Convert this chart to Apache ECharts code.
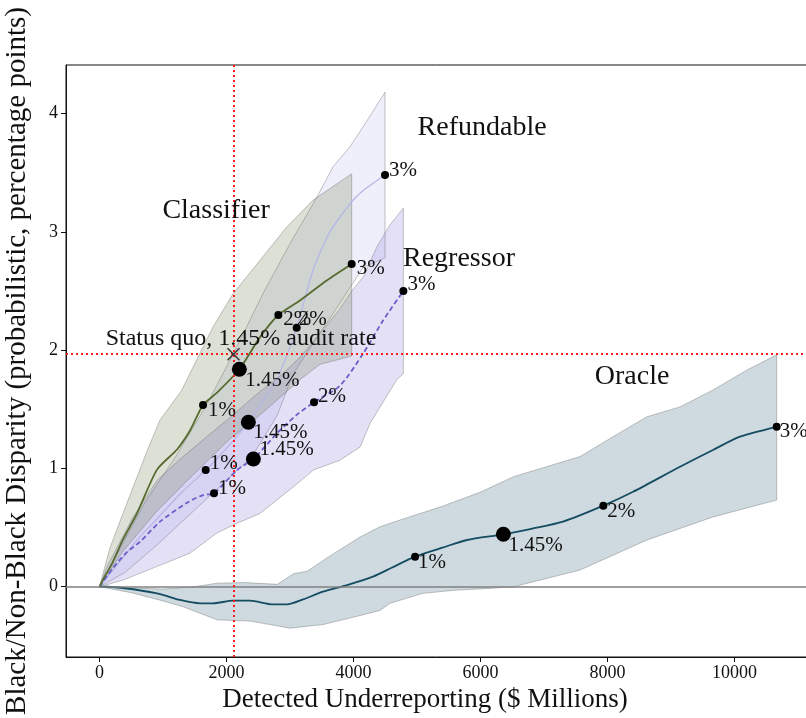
<!DOCTYPE html>
<html>
<head>
<meta charset="utf-8">
<script src="https://cdn.jsdelivr.net/npm/echarts@6/dist/echarts.min.js"></script>
<style>
  html, body { margin: 0; padding: 0; background: #fff; }
  #chart { width: 806px; height: 718px; }
</style>
</head>
<body>
<div id="chart"></div>
<script>
// ---- tick values ----
const xTicks = [0, 2000, 4000, 6000, 8000, 10000];
const yTicks = [0, 1, 2, 3, 4];

// ---- audit-rate labels for the marked points ----
const rateLabels = ['1%', '1.45%', '2%', '3%'];

// ---- Classifier ----
const classifierLine = [[0,0],[55,0.06],[200,0.2],[370,0.40],[590,0.62],[906,0.99],[1220,1.16],[1425,1.32],[1630,1.536],[1850,1.64],[2202,1.838],[2528,2.11],[2816,2.297],[3157,2.42],[3583,2.59],[3971,2.728]];
const classifierUpper = [[0,0],[165,0.33],[370,0.62],[750,1.15],[953,1.41],[1294,1.66],[1531,1.92],[1792,2.2],[2107,2.48],[2528,2.76],[2948,3.04],[3367,3.27],[3971,3.49]];
const classifierLower = [[0,0],[370,0.30],[906,0.64],[1425,0.92],[2055,1.25],[2480,1.43],[2843,1.6],[3157,1.75],[3472,1.88],[3971,1.95]];
const classifierPts = [[1630,1.536],[2202,1.838],[2816,2.297],[3971,2.728]];

// ---- Refundable ----
const refundableLine = [[0,0],[300,0.2],[600,0.4],[950,0.6],[1300,0.8],[1672,0.986],[2000,1.17],[2344,1.39],[2550,1.55],[2790,1.75],[3105,2.19],[3365,2.68],[3630,3.0],[4050,3.3],[4496,3.48]];
const refundableUpper = [[0,0],[300,0.3],[700,0.7],[1200,1.1],[1700,1.55],[2165,2.03],[2575,2.48],[3000,2.9],[3400,3.27],[3677,3.55],[3945,3.72],[4213,3.94],[4496,4.18]];
const refundableLower = [[0,0],[400,0.12],[900,0.35],[1400,0.6],[1900,0.85],[2400,1.1],[2800,1.45],[3050,1.80],[3365,2.06],[3680,2.31],[3971,2.55],[4155,2.70],[4496,2.78]];
const refundablePts = [[1672,0.986],[2344,1.39],[3105,2.19],[4496,3.48]];

// ---- Regressor ----
const regressorLine = [[0,0],[200,0.15],[428,0.29],[638,0.38],[953,0.55],[1378,0.71],[1630,0.775],[1803,0.79],[2165,0.986],[2423,1.08],[2800,1.3],[3100,1.45],[3378,1.56],[3787,1.70],[4150,1.97],[4465,2.25],[4785,2.50]];
const regressorUpper = [[0,0],[118,0.17],[529,0.59],[906,0.9],[1315,1.1],[1693,1.27],[2055,1.43],[2480,1.63],[2843,1.78],[3157,1.94],[3472,2.14],[3787,2.35],[3971,2.5],[4155,2.62],[4365,2.87],[4575,3.06],[4785,3.2]];
const regressorLower = [[0,0],[370,0.056],[900,0.17],[1425,0.284],[1845,0.453],[2160,0.535],[2528,0.62],[3055,0.845],[3367,0.986],[3787,1.07],[4102,1.18],[4260,1.38],[4680,1.75],[4785,1.8]];
const regressorPts = [[1803,0.79],[2423,1.08],[3378,1.56],[4785,2.50]];

// ---- Oracle ----
const oracleLine = [[0,0],[130,0],[906,-0.056],[1268,-0.112],[1583,-0.14],[1787,-0.14],[2102,-0.118],[2370,-0.118],[2732,-0.149],[2953,-0.149],[3205,-0.107],[3520,-0.042],[3898,0.014],[4307,0.085],[4600,0.16],[4969,0.254],[5400,0.33],[5787,0.395],[6360,0.443],[6800,0.49],[7299,0.55],[7934,0.685],[8402,0.803],[9142,1.014],[9661,1.156],[10087,1.268],[10664,1.352]];
const oracleUpper = [[0,0],[500,-0.01],[1000,-0.02],[1500,0.0],[1850,0.03],[2300,0.035],[2800,0.02],[3055,0.11],[3268,0.13],[3600,0.25],[4102,0.42],[4417,0.507],[4732,0.564],[5400,0.68],[6000,0.8],[6520,0.93],[7567,1.1],[8087,1.268],[8622,1.437],[9142,1.52],[9661,1.663],[10189,1.83],[10664,1.96]];
const oracleLower = [[0,0],[500,-0.05],[1000,-0.12],[1315,-0.169],[1850,-0.28],[2370,-0.29],[2685,-0.32],[3000,-0.35],[3520,-0.32],[4055,-0.25],[4417,-0.2],[4575,-0.14],[5094,-0.056],[5630,-0.028],[6150,-0.014],[6520,0.0],[7567,0.141],[8622,0.395],[9661,0.59],[10664,0.733]];
const oraclePts = [[4969,0.254],[6360,0.443],[7934,0.685],[10664,1.352]];

// ---- status quo reference ----
const statusQuo = [2110, 1.965];

// ---- annotation text anchors (data coordinates) ----
const modelNames = ['Classifier', 'Refundable', 'Regressor', 'Oracle'];
const modelNameAt = [[1835, 3.176], [6024, 3.877], [5661, 2.77], [8386, 1.773]];
const statusText = 'Status quo, 1.45% audit rate';
const statusTextAt = [2228, 2.10];

// label placement (pixel offsets from each marker), style only
const labelOffsets = {
  classifier: [[1,5],[-1.5,11],[1,5],[1,4]],
  refundable: [[0,-7],[-2.5,10],[-2,-8],[0,-5]],
  regressor:  [[0,-5],[-1.5,-9],[0,-6],[0,-6]],
  oracle:     [[-1,6],[-2.5,11],[0,6],[-1,5]]
};

const FONT = "'Liberation Serif', 'DejaVu Serif', serif";
const INK = '#111';

function band(upper, lower, fill) {
  return {
    type: 'custom',
    coordinateSystem: 'cartesian2d',
    silent: true,
    z: 1,
    data: [[0, 0]],
    renderItem: function (params, api) {
      const pts = upper.map(p => api.coord(p))
        .concat(lower.slice().reverse().map(p => api.coord(p)));
      return {
        type: 'polygon',
        shape: { points: pts },
        style: { fill: fill, stroke: 'rgba(90,90,90,0.35)', lineWidth: 1 }
      };
    }
  };
}

function curve(data, color, width, dashed) {
  return {
    type: 'line',
    data: data,
    showSymbol: false,
    smooth: 0.25,
    silent: true,
    z: 3,
    lineStyle: { color: color, width: width, type: dashed ? [5, 3] : 'solid' }
  };
}

function markers(pts, offsets) {
  return {
    type: 'scatter',
    silent: true,
    z: 5,
    data: pts.map((p, i) => ({
      value: p,
      symbolSize: i === 1 ? 15 : 8,
      label: {
        show: true,
        position: 'right',
        distance: 0,
        offset: offsets[i],
        formatter: rateLabels[i],
        fontFamily: FONT,
        fontSize: 21,
        color: INK,
        opacity: 1
      }
    })),
    itemStyle: { color: '#000', opacity: 1 }
  };
}

const textSeries = {
  type: 'scatter',
  silent: true,
  z: 6,
  symbolSize: 0,
  itemStyle: { color: '#000', opacity: 1 },
  data: modelNames.map((n, i) => ({
    value: modelNameAt[i],
    label: { show: true, position: 'inside', formatter: n, fontFamily: FONT, fontSize: 28, color: INK, opacity: 1, textBorderWidth: 0 }
  })).concat([{
    value: statusTextAt,
    label: { show: true, position: 'inside', formatter: statusText, fontFamily: FONT, fontSize: 24, color: INK, opacity: 1, textBorderWidth: 0 }
  }])
};

const chart = echarts.init(document.getElementById('chart'), null, { renderer: 'canvas' });

chart.setOption({
  animation: false,
  backgroundColor: '#fff',
  grid: { left: 66, top: 65, right: -2, bottom: 61, show: true, borderColor: INK, borderWidth: 1, containLabel: false, outerBoundsMode: 'none' },
  xAxis: {
    type: 'value',
    min: -528, max: 11157,
    splitLine: { show: false },
    axisLine: { show: true, onZero: false, lineStyle: { color: INK, width: 1 } },
    axisTick: { show: true, length: 5, customValues: xTicks, lineStyle: { color: INK } },
    axisLabel: { customValues: xTicks, formatter: v => String(v), fontFamily: FONT, fontSize: 18, color: INK, margin: 7 },
    name: 'Detected Underreporting ($ Millions)',
    nameLocation: 'middle',
    nameGap: 29,
    nameTextStyle: { fontFamily: FONT, fontSize: 27, color: INK, padding: [0, 24, 0, 0] }
  },
  yAxis: {
    type: 'value',
    min: -0.594, max: 4.41,
    splitLine: { show: false },
    axisLine: { show: true, onZero: false, lineStyle: { color: INK, width: 1 } },
    axisTick: { show: true, length: 5, customValues: yTicks, lineStyle: { color: INK } },
    axisLabel: { customValues: yTicks, formatter: v => String(v), fontFamily: FONT, fontSize: 18, color: INK, margin: 8 },
    name: 'Black/Non-Black Disparity (probabilistic, percentage points)',
    nameLocation: 'middle',
    nameGap: 34,
    nameTextStyle: { fontFamily: FONT, fontSize: 29, color: INK }
  },
  series: [
    band(oracleUpper, oracleLower, 'rgba(11,69,96,0.2)'),
    band(refundableUpper, refundableLower, 'rgba(170,176,230,0.2)'),
    band(regressorUpper, regressorLower, 'rgba(106,90,205,0.18)'),
    band(classifierUpper, classifierLower, 'rgba(85,107,47,0.2)'),
    {
      type: 'line', data: [], silent: true, z: 2,
      markLine: {
        silent: true, symbol: 'none', label: { show: false },
        lineStyle: { color: '#808080', width: 1.6, type: 'solid' },
        data: [{ yAxis: 0 }]
      }
    },
    curve(oracleLine, '#154c61', 1.8, false),
    curve(refundableLine, '#b4b6e6', 1.3, false),
    curve(regressorLine, '#6a5fc8', 1.8, true),
    curve(classifierLine, '#556b2f', 1.8, false),
    {
      type: 'line', data: [], silent: true, z: 4,
      markLine: {
        silent: true, symbol: 'none', label: { show: false },
        lineStyle: { color: '#ff1a1a', width: 2, type: [2, 3] },
        data: [{ xAxis: statusQuo[0] }, { yAxis: statusQuo[1] }]
      }
    },
    markers(classifierPts, labelOffsets.classifier),
    markers(refundablePts, labelOffsets.refundable),
    markers(regressorPts, labelOffsets.regressor),
    markers(oraclePts, labelOffsets.oracle),
    {
      type: 'scatter', silent: true, z: 6,
      symbol: 'path://M0,0.8L0.8,0L5,4.2L9.2,0L10,0.8L5.8,5L10,9.2L9.2,10L5,5.8L0.8,10L0,9.2L4.2,5Z',
      symbolSize: 13,
      itemStyle: { color: '#333', opacity: 1 },
      data: [statusQuo]
    },
    textSeries
  ]
});
</script>
</body>
</html>
